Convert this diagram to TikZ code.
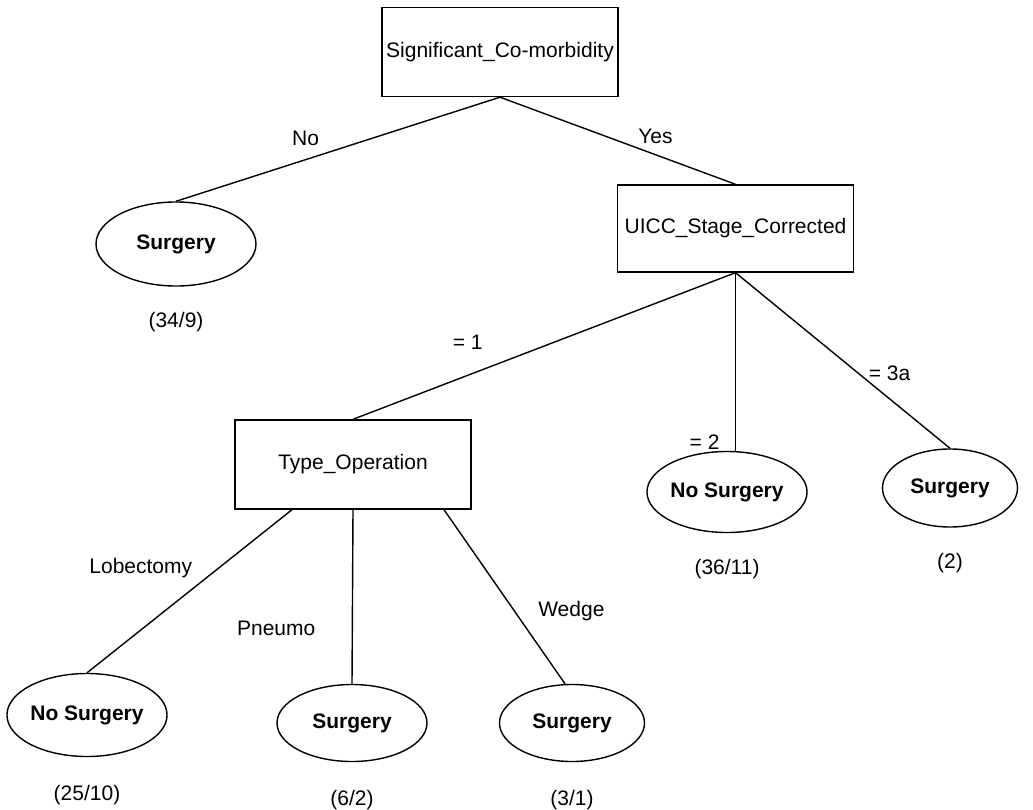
\documentclass[tikz,border=0pt]{standalone}
\usepackage{fontspec}
\setmainfont{Liberation Sans}
\usetikzlibrary{shapes.geometric, positioning}

\tikzset{
  split/.style={draw, rectangle, minimum width=236pt, minimum height=89pt, inner sep=0pt},
  leaf/.style={draw, ellipse, inner sep=0pt, font=\fontsize{21}{25}\selectfont\bfseries},
}

\begin{document}
\begin{tikzpicture}[x=1pt, y=-1pt, line width=1.4pt,
    every node/.append style={font=\fontsize{21}{25}\selectfont}]
  \useasboundingbox[fill=white] (0,0) rectangle (1033,810);
  % Split nodes
  \node[split] (comorb) at (500,52) {Significant\_Co-morbidity};
  \node[split, minimum height=87pt] (uicc) at (735.5,228.5) {UICC\_Stage\_Corrected};
  \node[split] (typeop) at (353,464.5) {Type\_Operation};
  % Leaves
  \node[leaf, minimum width=160pt, minimum height=84pt] (surgA) at (176,244) {Surgery};
  \node[leaf, minimum width=155pt, minimum height=81pt] (nosurgB) at (727,492) {No Surgery};
  \node[leaf, minimum width=135pt, minimum height=78pt] (surgC) at (950,488) {Surgery};
  \node[leaf, minimum width=160pt, minimum height=83pt] (nosurgD) at (87,715) {No Surgery};
  \node[leaf, minimum width=150pt, minimum height=77pt] (surgE) at (352,723) {Surgery};
  \node[leaf, minimum width=145pt, minimum height=77pt] (surgF) at (572,723) {Surgery};
  % Counts
  \node[below=22pt of surgA] (cntA) {(34/9)};
  \node[below=22pt of nosurgB] (cntB) {(36/11)};
  \node[below=22pt of surgC] (cntC) {(2)};
  \node[below=24pt of nosurgD] (cntD) {(25/10)};
  \node[below=24pt of surgE] (cntE) {(6/2)};
  \node[below=24pt of surgF] (cntF) {(3/1)};
  % Branches
  \draw (comorb.south) -- node[pos=0.6, above=10pt] {No} (surgA.north);
  \draw (comorb.south) -- node[pos=0.66, above=7pt] {Yes} (uicc.north);
  \draw (uicc.south) -- node[pos=0.7, above=22pt] {= 1} (typeop.north);
  \draw (uicc.south) -- node[pos=0.95, left=12pt] {= 2} (uicc.south |- nosurgB.north);
  \draw (uicc.south) -- node[pos=0.57, right=7pt] {= 3a} (surgC.north);
  \draw ([xshift=-61pt]typeop.south) -- node[pos=0.36, left=22pt] {Lobectomy} (nosurgD.north);
  \draw (typeop.south) -- node[pos=0.68, left=33pt] {Pneumo} (surgE.north);
  \draw ([xshift=91pt]typeop.south) -- node[pos=0.58, right=20pt] {Wedge} (surgF.100);
\end{tikzpicture}
\end{document}
